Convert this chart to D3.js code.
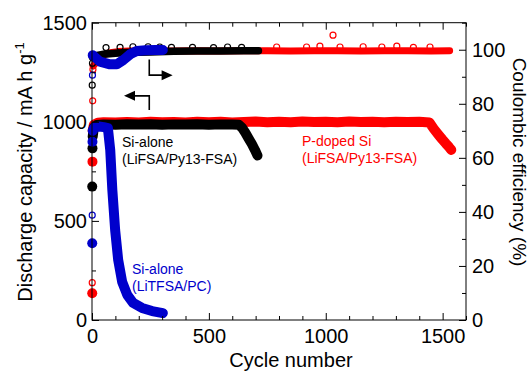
<!DOCTYPE html>
<html>
<head>
<meta charset="utf-8">
<script src="https://cdn.jsdelivr.net/npm/d3@7"></script>
<style>
  body { margin: 0; background: #fff; }
  svg { display: block; }
  text { font-family: "Liberation Sans", Arial, sans-serif; fill: #000; }
</style>
</head>
<body>
<svg id="chart" width="530" height="371"></svg>
<script>
// discharge capacity, [cycle, mAh/g]
var redCapEarly = [[1, 135], [2, 799]];
var redCapMain = [[3, 955], [8, 985], [25, 995], [50, 998], [100, 996], [150, 999], [200, 997], [250, 1000],
  [300, 998], [350, 999], [400, 997], [450, 1000], [500, 998], [550, 1000], [600, 997], [650, 999],
  [700, 1001], [750, 998], [800, 1000], [850, 998], [900, 1001], [950, 999], [1000, 1000], [1050, 998],
  [1100, 1001], [1150, 999], [1200, 1000], [1250, 998], [1300, 1000], [1350, 999], [1400, 1000],
  [1444, 996], [1462, 965], [1480, 938], [1498, 912], [1514, 890], [1527, 873], [1537, 858]];
var blackCapEarly = [[1, 673], [2, 866]];
var blackCapMain = [[3, 925], [8, 972], [20, 984], [50, 987], [100, 985], [150, 988], [200, 986], [250, 988],
  [300, 985], [350, 987], [400, 986], [450, 988], [500, 985], [550, 987], [600, 986], [628, 985],
  [642, 970], [656, 945], [670, 916], [684, 888], [697, 858], [708, 830]];
var blueCapEarly = [[1, 387], [2, 899]];
var blueCapMain = [[3, 955], [10, 972], [30, 976], [50, 973], [68, 968], [78, 858], [87, 656], [99, 454],
  [112, 303], [129, 192], [151, 126], [176, 86], [214, 61], [257, 45], [303, 35]];

// coulombic efficiency, [cycle, %]
var redCEEarly = [[1, 13.8], [2, 67.5], [3, 81.1], [4, 92.7]];
var redCEMain = [[5, 94], [20, 95.5], [40, 97.5], [70, 98.8], [110, 99.3], [160, 99.5], [250, 99.6], [350, 99.5],
  [450, 99.6], [550, 99.5], [650, 99.6], [750, 99.6], [850, 99.5], [950, 99.6], [1050, 99.6],
  [1150, 99.5], [1250, 99.6], [1350, 99.6], [1450, 99.5], [1530, 99.6]];
var redCEOut = [[790, 101], [918, 101], [975, 101.3], [1031, 105.4], [1061, 101], [1160, 101.1],
  [1240, 101], [1304, 101.3], [1375, 100.9], [1446, 101]];
var blackCEEarly = [[1, 86.9], [2, 95]];
var blackCEMain = [[3, 97], [15, 97.8], [50, 98.3], [100, 98.7], [150, 99], [250, 99.2], [350, 99.4],
  [450, 99.5], [550, 99.5], [650, 99.6], [712, 99.6]];
var blackCEOut = [[60, 100.8], [120, 100.9], [175, 101.1], [240, 101.1], [290, 101], [340, 100.9],
  [430, 100.9], [520, 100.8], [580, 101], [640, 100.9]];
var blueCEEarly = [[1, 38.8], [2, 90.6]];
var blueCEMain = [[3, 98], [34, 95.6], [77, 94.6], [106, 94.6], [134, 96.2], [163, 98.3], [191, 99.5],
  [230, 99.8], [270, 99.9], [303, 99.9]];

// ticks
var xMajor = [0, 500, 1000, 1500];
var xMinor = [100, 200, 300, 400, 600, 700, 800, 900, 1100, 1200, 1300, 1400, 1600];
var yLMajor = [0, 500, 1000, 1500];
var yLMinor = [250, 750, 1250];
var yRMajor = [0, 20, 40, 60, 80, 100];
var yRMinor = [10, 30, 50, 70, 90, 110];

(function () {
  var RED = '#ff0000', BLACK = '#000000', BLUE = '#0000cc';

  var svg = d3.select('#chart');
  var pLeft = 92, pRight = 466, pTop = 22.7, pBottom = 320;

  var x = d3.scaleLinear().domain([0, 1600]).range([pLeft, pRight]);
  var yL = d3.scaleLinear().domain([0, 1500]).range([pBottom, pTop]);
  var yR = d3.scaleLinear().domain([0, 110]).range([pBottom, pTop]);

  function band(data, yScale, color, w) {
    var line = d3.line().x(function (d) { return x(d[0]); }).y(function (d) { return yScale(d[1]); });
    svg.append('path').datum(data)
      .attr('d', line)
      .attr('fill', 'none')
      .attr('stroke', color)
      .attr('stroke-width', w)
      .attr('stroke-linecap', 'round')
      .attr('stroke-linejoin', 'round');
  }

  function dots(data, yScale, color, r, open) {
    svg.append('g').selectAll('circle').data(data).enter().append('circle')
      .attr('cx', function (d) { return x(d[0]); })
      .attr('cy', function (d) { return yScale(d[1]); })
      .attr('r', r)
      .attr('fill', open ? 'none' : color)
      .attr('stroke', color)
      .attr('stroke-width', open ? 1.2 : 0);
  }

  // series: red underneath, then black, then blue
  band(redCEMain, yR, RED, 7);
  dots(redCEOut, yR, RED, 3, true);
  band(redCapMain, yL, RED, 10);
  dots(redCapEarly, yL, RED, 5, false);
  dots(redCEEarly, yR, RED, 3, true);

  band(blackCEMain, yR, BLACK, 7.5);
  dots(blackCEOut, yR, BLACK, 3, true);
  band(blackCapMain, yL, BLACK, 10);
  dots(blackCapEarly, yL, BLACK, 5, false);
  dots(blackCEEarly, yR, BLACK, 3, true);

  band(blueCEMain, yR, BLUE, 10);
  band(blueCapMain, yL, BLUE, 10);
  dots(blueCapEarly, yL, BLUE, 5, false);
  dots(blueCEEarly, yR, BLUE, 3, true);

  // frame
  svg.append('rect')
    .attr('x', pLeft).attr('y', pTop)
    .attr('width', pRight - pLeft).attr('height', pBottom - pTop)
    .attr('fill', 'none').attr('stroke', '#000').attr('stroke-width', 1);

  function axis(gen, scale, values, size, pad, pos, labels) {
    var a = gen(scale).tickValues(values).tickSize(-size).tickSizeOuter(0).tickPadding(pad)
      .tickFormat(labels ? d3.format('d') : '');
    var g = svg.append('g').attr('transform', pos).call(a);
    g.select('.domain').remove();
    g.selectAll('text').attr('font-size', 20).attr('font-family', '"Liberation Sans", Arial, sans-serif');
    g.selectAll('line').attr('stroke', '#000');
    return g;
  }

  axis(d3.axisBottom, x, xMajor, 7, 9, 'translate(0,' + pBottom + ')', true);
  axis(d3.axisBottom, x, xMinor, 4, 9, 'translate(0,' + pBottom + ')', false);
  axis(d3.axisTop, x, xMajor, 7, 9, 'translate(0,' + pTop + ')', false);
  axis(d3.axisTop, x, xMinor, 4, 9, 'translate(0,' + pTop + ')', false);
  axis(d3.axisLeft, yL, yLMajor, 7, 5, 'translate(' + pLeft + ',0)', true);
  axis(d3.axisLeft, yL, yLMinor, 4, 5, 'translate(' + pLeft + ',0)', false);
  axis(d3.axisRight, yR, yRMajor, 7, 6, 'translate(' + pRight + ',0)', true);
  axis(d3.axisRight, yR, yRMinor, 4, 6, 'translate(' + pRight + ',0)', false);

  // axis titles
  svg.append('text').attr('x', 291).attr('y', 367).attr('text-anchor', 'middle')
    .attr('font-size', 20).text('Cycle number');

  var yt = svg.append('text').attr('transform', 'translate(32,172) rotate(-90)')
    .attr('text-anchor', 'middle').attr('font-size', 20);
  yt.append('tspan').text('Discharge capacity / mA h g');
  yt.append('tspan').attr('dy', '-0.6em').attr('font-size', 13).text('-1');

  svg.append('text').attr('transform', 'translate(513,162) rotate(90)')
    .attr('text-anchor', 'middle').attr('font-size', 19).text('Coulombic efficiency (%)');

  // annotations
  function label(px, py, lines, color) {
    lines.forEach(function (s, i) {
      svg.append('text').attr('x', px).attr('y', py + i * 17.5)
        .attr('font-size', 14).style('fill', color).text(s);
    });
  }
  label(122, 146.5, ['Si-alone', '(LiFSA/Py13-FSA)'], BLACK);
  label(302, 145.5, ['P-doped Si', '(LiFSA/Py13-FSA)'], RED);
  label(132, 273.5, ['Si-alone', '(LiTFSA/PC)'], BLUE);

  // arrows pointing to each axis
  function arrow(pts, tip, dir) {
    svg.append('path').attr('d', d3.line()(pts))
      .attr('fill', 'none').attr('stroke', '#000').attr('stroke-width', 1.6);
    var tx = tip[0], ty = tip[1];
    svg.append('path')
      .attr('d', 'M' + tx + ',' + ty + 'L' + (tx - dir * 11) + ',' + (ty - 5) + 'L' + (tx - dir * 11) + ',' + (ty + 5) + 'Z')
      .attr('fill', '#000');
  }
  arrow([[x(245), yR(96.4)], [x(245), yR(90.6)], [x(300), yR(90.6)]], [x(345), yR(90.6)], 1);
  arrow([[x(245), yL(1059)], [x(245), yL(1131)], [x(180), yL(1131)]], [x(137), yL(1131)], -1);
})();
</script>
</body>
</html>
